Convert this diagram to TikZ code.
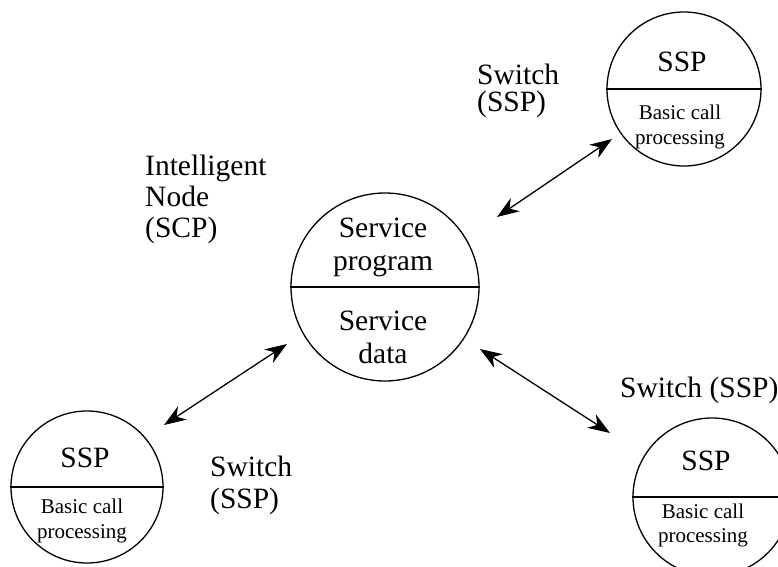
\documentclass[tikz,border=0pt]{standalone}
\usepackage{fontspec}
\setmainfont{Liberation Serif}
\usetikzlibrary{arrows.meta}

\tikzset{
  ring/.style={draw, circle, line width=1.3pt, inner sep=0pt},
  big/.style={inner sep=0pt, font=\fontsize{29.5}{33}\selectfont},
  small/.style={inner sep=0pt, font=\fontsize{21}{25}\selectfont},
  divider/.style={line width=1.6pt},
  link/.style={line width=1.3pt,
    {Stealth[length=22pt,width=16pt,inset=7pt]}-{Stealth[length=22pt,width=16pt,inset=7pt]}}
}

\begin{document}
\begin{tikzpicture}[x=1pt,y=1pt]
  \useasboundingbox (0,0) rectangle (778,566);
  \clip (0,0) rectangle (778,566);

  % Intelligent node (SCP)
  \node[ring, minimum size=188pt] (scp) at (385,279) {};
  \draw[divider] (scp.west) -- (scp.east);
  \node[big, anchor=base] (scp1) at (383,329) {Service};
  \node[big, anchor=base] (scp2) at (383,296) {program};
  \node[big, anchor=base] (scp3) at (383,236) {Service};
  \node[big, anchor=base] (scp4) at (383,203) {data};

  % Switch, upper right
  \node[ring, minimum size=154pt] (sspa) at (684,477) {};
  \draw[divider] (sspa.west) -- (sspa.east);
  \node[big, anchor=base] (sspa1) at (682,494) {SSP};
  \node[small, anchor=base] (sspa2) at (680,446) {Basic call};
  \node[small, anchor=base] (sspa3) at (680,421) {processing};

  % Switch, lower left
  \node[ring, minimum size=152pt] (sspb) at (87,79) {};
  \draw[divider] (sspb.west) -- (sspb.east);
  \node[big, anchor=base] (sspb1) at (85,99) {SSP};
  \node[small, anchor=base] (sspb2) at (82,53) {Basic call};
  \node[small, anchor=base] (sspb3) at (82,28) {processing};

  % Switch, lower right
  \node[ring, minimum size=158pt] (sspc) at (712,69) {};
  \draw[divider] (sspc.west) -- (sspc.east);
  \node[big, anchor=base] (sspc1) at (706,96) {SSP};
  \node[small, anchor=base] (sspc2) at (703,48) {Basic call};
  \node[small, anchor=base] (sspc3) at (703,24) {processing};

  % Free-standing labels
  \node[big, anchor=base west] (lbl1) at (145,391) {Intelligent};
  \node[big, anchor=base west] (lbl2) at (145,360) {Node};
  \node[big, anchor=base west] (lbl3) at (145,329) {(SCP)};
  \node[big, anchor=base west] (lbl4) at (477,481) {Switch};
  \node[big, anchor=base west] (lbl5) at (477,454) {(SSP)};
  \node[big, anchor=base west] (lbl6) at (620,169) {Switch (SSP)};
  \node[big, anchor=base west] (lbl7) at (210,90) {Switch};
  \node[big, anchor=base west] (lbl8) at (210,58) {(SSP)};

  % Signalling links
  \coordinate (a1) at (497,349);
  \coordinate (a2) at (612,427);
  \coordinate (b1) at (287,222);
  \coordinate (b2) at (164,141);
  \coordinate (c1) at (480,217);
  \coordinate (c2) at (610,133);
  \draw[link] (a1) -- (a2);
  \draw[link] (b1) -- (b2);
  \draw[link] (c1) -- (c2);
\end{tikzpicture}
\end{document}
